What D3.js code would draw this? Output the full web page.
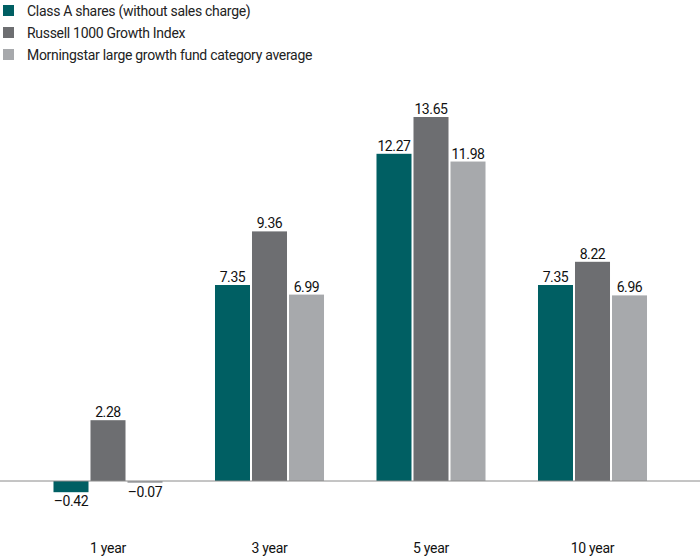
<!DOCTYPE html>
<html><head><meta charset="utf-8">
<script src="https://cdn.jsdelivr.net/npm/d3@7"></script>
<style>body{margin:0;background:#fff}svg{display:block}text{font-family:Roboto,"Open Sans",sans-serif}</style>
</head><body>
<script>
const categories = ["1 year", "3 year", "5 year", "10 year"];
const seriesNames = ["Class A shares (without sales charge)", "Russell 1000 Growth Index", "Morningstar large growth fund category average"];
const classA = [-0.42, 7.35, 12.27, 7.35];
const russell = [2.28, 9.36, 13.65, 8.22];
const morningstar = [-0.07, 6.99, 11.98, 6.96];
const colors = ["#005f63", "#6d6e71", "#a7a9ac"];
const series = [classA, russell, morningstar];

const W = 700, H = 560;
const svg = d3.select("body").append("svg").attr("width", W).attr("height", H);

const x0 = d3.scaleBand().domain(categories).range([27.25, 673.25]).paddingInner(0.325).paddingOuter(0.1625);
const x1 = d3.scaleBand().domain(d3.range(3)).range([0, x0.bandwidth()]).paddingInner(0.054).paddingOuter(0);
const y = d3.scaleLinear().domain([0, 13.65]).range([481, 117]);

const fmt = v => (v < 0 ? "\u2013" : "") + Math.abs(v).toFixed(2);

const g = svg.append("g");
categories.forEach((c, i) => {
  series.forEach((s, j) => {
    const v = s[i];
    const bx = x0(c) + x1(j);
    g.append("rect").attr("x", bx).attr("width", x1.bandwidth())
      .attr("y", Math.min(y(v), y(0))).attr("height", Math.abs(y(v) - y(0)))
      .attr("fill", colors[j]);
    g.append("text").attr("x", bx + x1.bandwidth() / 2)
      .attr("y", v >= 0 ? y(v) - 3 : y(v) + 14)
      .attr("text-anchor", "middle").attr("font-size", 14).attr("letter-spacing", -0.4).attr("fill", "#111")
      .text(fmt(v));
  });
});

svg.append("line").attr("x1", 0).attr("x2", W).attr("y1", y(0)).attr("y2", y(0))
  .attr("stroke", "#8a8a8a").attr("stroke-width", 1);

const xAxis = svg.append("g").attr("transform", "translate(0,543)")
  .call(d3.axisBottom(x0).tickSize(0).tickPadding(0));
xAxis.select(".domain").remove();
xAxis.selectAll("text").attr("font-size", 14).attr("letter-spacing", -0.3).attr("fill", "#111").attr("font-family", "Roboto, sans-serif");

const leg = svg.append("g");
seriesNames.forEach((n, j) => {
  leg.append("rect").attr("x", 3).attr("y", 5 + j * 22).attr("width", 11).attr("height", 11).attr("fill", colors[j]);
  leg.append("text").attr("x", 27).attr("y", 15.5 + j * 22).attr("font-size", 14).attr("letter-spacing", -0.3).attr("fill", "#222").text(n);
});
</script>
</body></html>
